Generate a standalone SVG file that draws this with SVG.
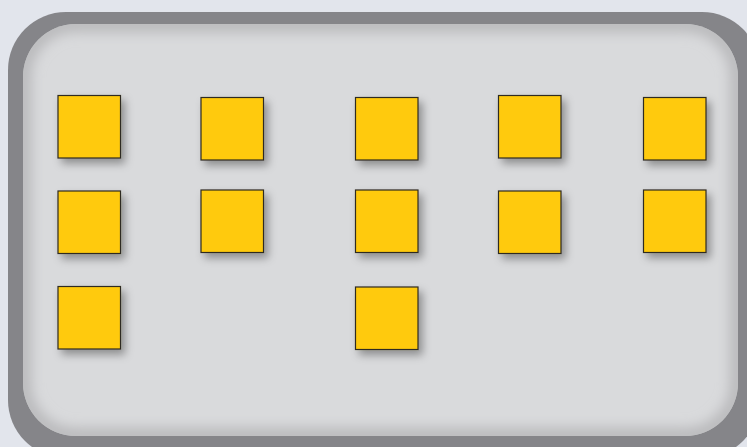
<svg xmlns="http://www.w3.org/2000/svg" width="747" height="447" viewBox="0 0 747 447">
  <style>
    .sq { fill: #ffca0a; stroke: #2e2a22; stroke-width: 1.2; filter: url(#ds); }
  </style>
  <defs>
    <filter id="ds" x="-30%" y="-30%" width="170%" height="170%">
      <feDropShadow dx="4" dy="5" stdDeviation="4" flood-color="#000" flood-opacity="0.35"/>
    </filter>
    <filter id="inset" x="-10%" y="-10%" width="120%" height="120%">
      <feGaussianBlur stdDeviation="7"/>
    </filter>
    <clipPath id="innerClip">
      <rect x="23" y="24" width="715" height="412" rx="53"/>
    </clipPath>
  </defs>
  <rect x="0" y="0" width="747" height="447" fill="#e2e5ec"/>
  <g id="frame">
    <rect x="8" y="12" width="752" height="446" rx="58" fill="#858589"/>
    <rect x="23" y="24" width="715" height="412" rx="53" fill="#d9dadc"/>
    <g clip-path="url(#innerClip)">
      <rect x="23" y="24" width="715" height="412" rx="53" fill="none" stroke="#b4b4b6" stroke-width="14" filter="url(#inset)"/>
    </g>
  </g>
  <g id="nodes">
    <g id="n1"><rect class="sq" x="58" y="95.5" width="62.5" height="62.5"/></g>
    <g id="n2"><rect class="sq" x="201" y="97.5" width="62.5" height="62.5"/></g>
    <g id="n3"><rect class="sq" x="355.5" y="97.5" width="62.5" height="62.5"/></g>
    <g id="n4"><rect class="sq" x="498.5" y="95.5" width="62.5" height="62.5"/></g>
    <g id="n5"><rect class="sq" x="643.5" y="97.5" width="62.5" height="62.5"/></g>
    <g id="n6"><rect class="sq" x="58" y="191" width="62.5" height="62.5"/></g>
    <g id="n7"><rect class="sq" x="201" y="190" width="62.5" height="62.5"/></g>
    <g id="n8"><rect class="sq" x="355.5" y="190" width="62.5" height="62.5"/></g>
    <g id="n9"><rect class="sq" x="498.5" y="191" width="62.5" height="62.5"/></g>
    <g id="n10"><rect class="sq" x="643.5" y="190" width="62.5" height="62.5"/></g>
    <g id="n11"><rect class="sq" x="58" y="286.5" width="62.5" height="62.5"/></g>
    <g id="n12"><rect class="sq" x="355.5" y="287" width="62.5" height="62.5"/></g>
  </g>
  <g id="connectors"></g>
</svg>
